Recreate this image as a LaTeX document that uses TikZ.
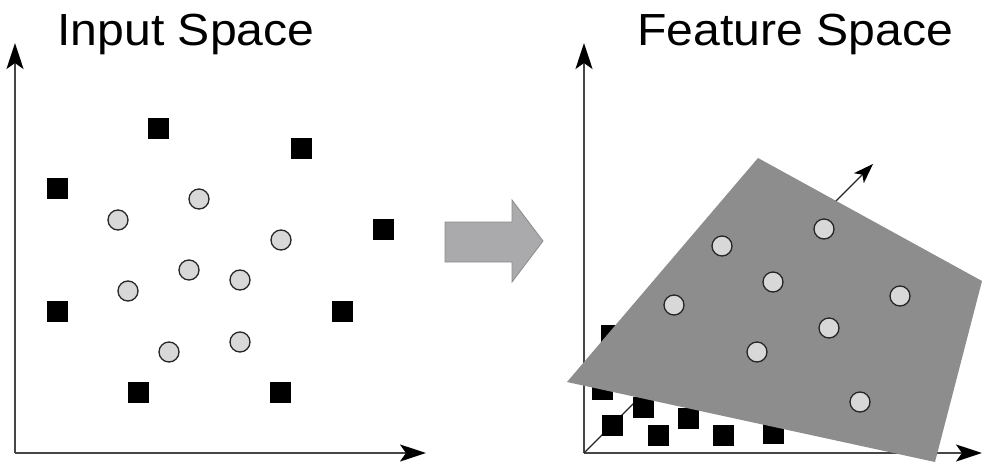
\documentclass[tikz,border=0pt]{standalone}
\usepackage{fontspec}
\setmainfont{Liberation Sans}
\usetikzlibrary{arrows.meta}
\definecolor{planegray}{RGB}{141,141,141}
\definecolor{dotgray}{RGB}{216,216,216}
\definecolor{arrowgray}{RGB}{170,170,172}
\definecolor{axisgray}{RGB}{70,70,70}
\tikzset{
  sq/.style={fill=black, minimum size=21pt, inner sep=0pt, outer sep=0pt},
  dot/.style={circle, fill=dotgray, draw=black!85, line width=1.3pt, minimum size=20pt, inner sep=0pt},
  axis/.style={draw=axisgray, line width=2pt, -{Stealth[length=26pt, width=17pt, inset=6pt, color=black]}},
  normalvec/.style={draw=black!85, line width=1.3pt, -{Stealth[length=20pt, width=14pt, inset=5pt, color=black]}},
  title/.style={font=\fontsize{45}{54}\selectfont, anchor=base, inner sep=0pt}
}
\begin{document}
\begin{tikzpicture}[x=1pt, y=-1pt]
\useasboundingbox (0,0) rectangle (983,461);
\fill[white] (0,0) rectangle (983,461);

% titles
\node[title] (t1) at (186,45) {\scalebox{1.07}[1]{Input Space}};
\node[title] (t2) at (795,45) {\scalebox{1.07}[1]{Feature Space}};

% ---------- input space ----------
\coordinate (o1) at (15,453);
\coordinate (y1) at (15,43);
\coordinate (x1) at (426,453);
\draw[axis] (o1) -- (y1);
\draw[axis] (o1) -- (x1);

\node[sq] (a1) at (158,128) {};
\node[sq] (a2) at (301,148) {};
\node[sq] (a3) at (57,188) {};
\node[sq] (a4) at (383,229) {};
\node[sq] (a5) at (57,311) {};
\node[sq] (a6) at (342,311) {};
\node[sq] (a7) at (138,392) {};
\node[sq] (a8) at (280,392) {};

\node[dot] (b1) at (118,220) {};
\node[dot] (b2) at (199,199) {};
\node[dot] (b3) at (281,240) {};
\node[dot] (b4) at (189,270) {};
\node[dot] (b5) at (240,280) {};
\node[dot] (b6) at (128,291) {};
\node[dot] (b7) at (240,342) {};
\node[dot] (b8) at (169,352) {};

% ---------- transform arrow ----------
\filldraw[fill=arrowgray, draw=black!45, line width=0.8pt]
  (445,222) -- (512,222) -- (512,200) -- (543,241) -- (512,282) -- (512,262) -- (445,262) -- cycle;

% ---------- feature space ----------
\coordinate (o2) at (584,453);
\coordinate (y2) at (584,43);
\coordinate (x2) at (982,453);
\coordinate (n2) at (873,164);
\draw[axis] (o2) -- (y2);
\draw[axis] (o2) -- (x2);
\draw[normalvec] (o2) -- (n2);

\node[sq] (c1) at (611,335) {};
\node[sq] (c2) at (602,389) {};
\node[sq] (c3) at (643,407) {};
\node[sq] (c4) at (612,425) {};
\node[sq] (c5) at (658,435) {};
\node[sq] (c6) at (688,418) {};
\node[sq] (c7) at (723,435) {};
\node[sq] (c8) at (773,433) {};

% separating plane
\fill[planegray] (758,158) -- (982,281) -- (935,462) -- (567,382) -- cycle;

\node[dot] (d1) at (722,246) {};
\node[dot] (d2) at (824,229) {};
\node[dot] (d3) at (773,282) {};
\node[dot] (d4) at (674,305) {};
\node[dot] (d5) at (900,296) {};
\node[dot] (d6) at (829,328) {};
\node[dot] (d7) at (757,352) {};
\node[dot] (d8) at (860,402) {};
\end{tikzpicture}
\end{document}
